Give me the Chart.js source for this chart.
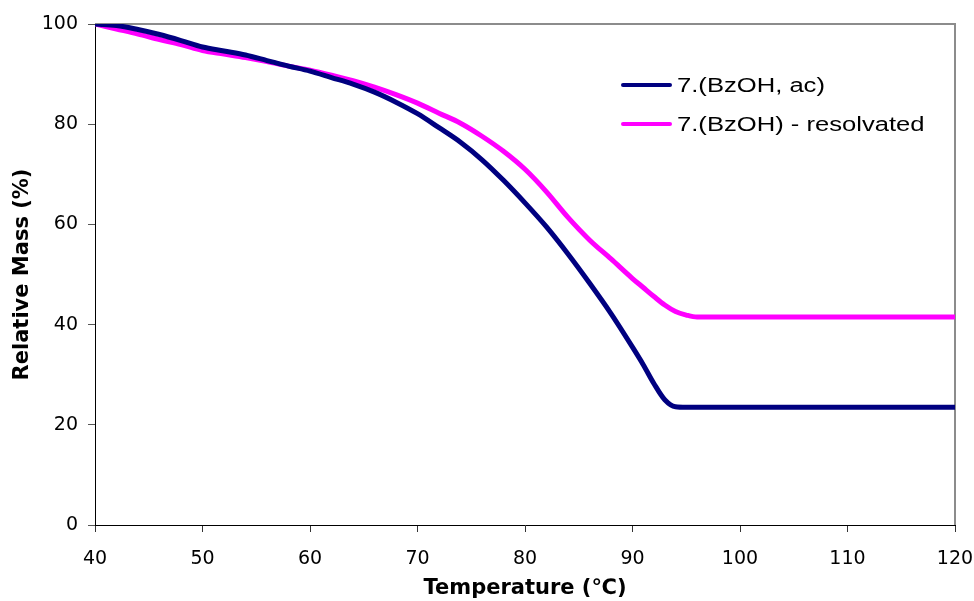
<!DOCTYPE html>
<html>
<head>
<meta charset="utf-8">
<title>Relative Mass vs Temperature</title>
<script src="https://cdn.jsdelivr.net/npm/chart.js@4/dist/chart.umd.min.js"></script>
<style>
  html, body { margin: 0; padding: 0; background: #fff; }
  #wrap { width: 974px; height: 601px; }
</style>
</head>
<body>
<div id="wrap"><canvas id="chart" width="974" height="601"></canvas></div>
<script>
  // temperature (C)
  var temps = [40, 42, 44, 46, 48, 50, 52, 54, 56, 58, 60, 62, 64, 66, 68, 70, 72, 74, 76, 78,
    80, 82, 84, 86, 88, 90, 91, 92, 93, 94, 95, 96, 100, 110, 120];

  var massAc = [100, 99.7, 98.9, 97.9, 96.7, 95.4, 94.6, 93.8, 92.7, 91.6, 90.6, 89.3, 88.0, 86.4, 84.4, 82.1, 79.3, 76.4, 72.9, 68.8,
    64.3, 59.5, 54.1, 48.3, 42.2, 35.5, 32.0, 28.2, 25.0, 23.6, 23.5, 23.5, 23.5, 23.5, 23.5];

  var massRes = [100, 99.0, 98.0, 96.9, 95.9, 94.7, 94.0, 93.3, 92.5, 91.6, 90.8, 89.8, 88.7, 87.4, 85.9, 84.2, 82.2, 80.2, 77.6, 74.6,
    71.0, 66.5, 61.4, 56.9, 53.1, 49.2, 47.4, 45.6, 43.9, 42.6, 41.9, 41.5, 41.5, 41.5, 41.5];

  var seriesLabels = ['7.(BzOH, ac)', '7.(BzOH) - resolvated'];
  var seriesColors = ['#000080', '#FF00FF'];

  var xTicks = [40, 50, 60, 70, 80, 90, 100, 110, 120];
  var yTicks = [0, 20, 40, 60, 80, 100];

  function points(ys) {
    return temps.map(function (t, i) { return { x: t, y: ys[i] }; });
  }

  // gray frame on top/right + legend inside the plot
  var framePlugin = {
    id: 'frame',
    beforeDatasetsDraw: function (chart) {
      var a = chart.chartArea, ctx = chart.ctx;
      ctx.save();
      ctx.strokeStyle = '#8c8c8c';
      ctx.lineWidth = 2;
      ctx.beginPath();
      ctx.moveTo(a.left, a.top);
      ctx.lineTo(a.right, a.top);
      ctx.lineTo(a.right, a.bottom);
      ctx.stroke();
      ctx.restore();
    },
    afterDraw: function (chart) {
      var ctx = chart.ctx;
      var rows = [85, 124];
      ctx.save();
      chart.data.datasets.forEach(function (ds, i) {
        var y = rows[i];
        ctx.strokeStyle = ds.borderColor;
        ctx.lineWidth = 4;
        ctx.lineCap = 'round';
        ctx.beginPath();
        ctx.moveTo(623, y);
        ctx.lineTo(670, y);
        ctx.stroke();
        ctx.save();
        ctx.translate(677, y);
        ctx.scale(1.28, 1);
        ctx.fillStyle = '#000';
        ctx.font = '20px "Liberation Sans", Arial, sans-serif';
        ctx.textBaseline = 'middle';
        ctx.fillText(ds.label, 0, 1);
        ctx.restore();
      });
      ctx.restore();
    }
  };

  var tickFont = { family: '"DejaVu Sans", sans-serif', size: 19 };
  var titleFont = { family: '"DejaVu Sans", sans-serif', size: 21, weight: 'bold' };

  new Chart(document.getElementById('chart'), {
    type: 'line',
    data: {
      datasets: [{
        label: seriesLabels[0],
        data: points(massAc),
        borderColor: seriesColors[0],
        backgroundColor: seriesColors[0],
        borderWidth: 5,
        pointRadius: 0,
        cubicInterpolationMode: 'monotone'
      }, {
        label: seriesLabels[1],
        data: points(massRes),
        borderColor: seriesColors[1],
        backgroundColor: seriesColors[1],
        borderWidth: 5,
        pointRadius: 0,
        cubicInterpolationMode: 'monotone'
      }]
    },
    options: {
      responsive: false,
      animation: false,
      layout: { padding: { top: 24, right: 19, left: 0, bottom: 0 } },
      plugins: {
        legend: { display: false },
        tooltip: { enabled: false }
      },
      scales: {
        x: {
          type: 'linear',
          min: 40,
          max: 120,
          afterFit: function (s) { s.height = 76; s.paddingLeft = 0; s.paddingRight = 0; },
          afterBuildTicks: function (s) { s.ticks = xTicks.map(function (v) { return { value: v }; }); },
          grid: { display: true, drawOnChartArea: false, tickLength: 7, color: '#333' },
          border: { color: '#000', width: 1 },
          ticks: { font: tickFont, color: '#000', padding: 16, maxRotation: 0 },
          title: { display: true, text: 'Temperature (℃)', font: titleFont, color: '#000', padding: { top: 0, bottom: 0 } }
        },
        y: {
          min: 0,
          max: 100,
          afterFit: function (s) { s.width = 95; s.paddingTop = 0; s.paddingBottom = 0; },
          afterBuildTicks: function (s) { s.ticks = yTicks.map(function (v) { return { value: v }; }); },
          grid: { display: true, drawOnChartArea: false, tickLength: 7, color: '#555' },
          border: { color: '#000', width: 1 },
          ticks: { font: tickFont, color: '#000', padding: 10 },
          title: { display: true, text: 'Relative Mass (%)', font: titleFont, color: '#000', padding: { top: 10, bottom: 0 } }
        }
      }
    },
    plugins: [framePlugin]
  });
</script>
</body>
</html>
